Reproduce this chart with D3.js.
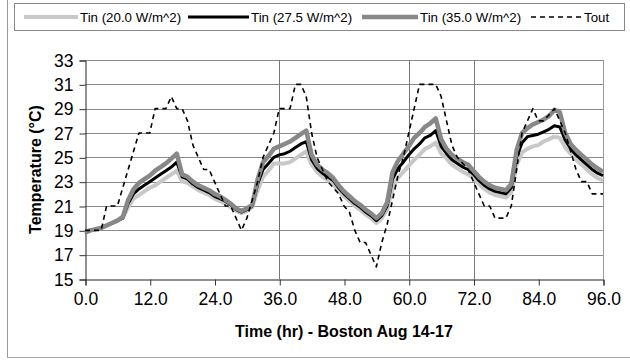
<!DOCTYPE html>
<html><head><meta charset="utf-8">
<script src="https://cdn.jsdelivr.net/npm/d3@7"></script>
<style>body{margin:0;background:#fff}svg{display:block}text{font-family:"Liberation Sans",Arial,sans-serif}</style>
</head><body><svg id="c" width="630" height="362"></svg>
<script>
const hours = [0,1,2,3,4,5,6,7,8,9,10,11,12,13,14,15,16,17,18,19,20,21,22,23,24,25,26,27,28,29,30,31,32,33,34,35,36,37,38,39,40,41,42,43,44,45,46,47,48,49,50,51,52,53,54,55,56,57,58,59,60,61,62,63,64,65,66,67,68,69,70,71,72,73,74,75,76,77,78,79,80,81,82,83,84,85,86,87,88,89,90,91,92,93,94,95,96];
const tin20 = [18.8,19.0,19.1,19.2,19.4,19.6,19.8,20.0,20.9,21.6,21.9,22.2,22.5,22.7,23.0,23.3,23.6,23.9,23.0,22.9,22.6,22.3,22.1,21.9,21.6,21.4,21.2,20.9,20.6,20.4,20.6,20.9,22.3,23.4,23.9,24.5,24.5,24.5,24.6,24.9,25.2,25.5,24.4,23.8,23.4,23.1,22.8,22.2,21.8,21.4,21.0,20.7,20.3,20.0,19.6,20.0,20.7,22.5,23.3,23.8,24.3,24.8,25.2,25.7,25.9,26.2,25.3,24.9,24.4,24.1,23.8,23.6,23.3,22.8,22.4,22.1,21.9,21.8,21.7,22.1,24.4,25.4,25.7,25.9,26.0,26.3,26.5,26.7,26.6,25.8,25.3,24.8,24.4,24.0,23.6,23.3,23.1];
const tin275 = [18.8,19.0,19.1,19.2,19.4,19.6,19.8,20.0,21.2,22.0,22.4,22.7,23.0,23.3,23.6,23.9,24.2,24.6,23.4,23.2,22.8,22.5,22.3,22.1,21.8,21.6,21.4,21.1,20.7,20.5,20.7,21.0,22.8,24.0,24.5,25.0,25.2,25.3,25.5,25.8,26.1,26.3,24.8,24.1,23.7,23.4,23.1,22.5,22.0,21.6,21.2,20.9,20.5,20.2,19.8,20.2,21.0,23.2,24.1,24.6,25.2,25.7,26.1,26.6,26.8,27.2,25.9,25.3,24.8,24.5,24.2,24.0,23.6,23.1,22.7,22.4,22.2,22.1,22.0,22.5,25.0,26.2,26.7,26.8,26.9,27.1,27.3,27.6,27.5,26.4,25.7,25.2,24.8,24.4,24.0,23.7,23.5];
const tin35 = [18.8,19.0,19.1,19.2,19.4,19.6,19.8,20.1,21.5,22.4,22.9,23.2,23.5,23.9,24.2,24.5,24.9,25.3,23.6,23.4,23.0,22.7,22.5,22.3,22.0,21.8,21.5,21.2,20.8,20.6,20.8,21.1,23.2,24.6,25.1,25.7,25.9,26.1,26.3,26.6,26.9,27.2,25.2,24.4,24.0,23.7,23.3,22.7,22.2,21.8,21.4,21.1,20.7,20.4,20.0,20.4,21.3,23.8,24.7,25.3,25.9,26.6,27.0,27.5,27.8,28.2,26.5,25.7,25.2,24.9,24.6,24.4,23.9,23.4,23.0,22.7,22.5,22.4,22.3,22.8,25.6,27.0,27.4,27.7,27.9,28.1,28.4,28.9,28.7,27.0,26.1,25.6,25.2,24.8,24.4,24.1,23.8];
const tout = [19,19,19,19,21,21,21,22.5,24,25.5,27,27,27,29,29,29,30,29,29,28,26,25,24,24,23,22,21,21,20,19,20,21.5,23,25,26,27,29,29,29,31,31,30,27,25,24,23,22.5,22,21,20.5,19,18,18,17,16,18,19.5,21.5,23.5,25,27,29,31,31,31,31,30,28,26,25,24.5,24,23,22,21,21,20,20,20,21,24,27,28,29,28,28,28.5,29,28,27,25.5,24,23,23,22,22,22];
const yTicks = [15,17,19,21,23,25,27,29,31,33];
const xTicks = [0,12,24,36,48,60,72,84,96];
const vGrid = [36,60,72];
const seriesNames = ["Tin (20.0 W/m^2)","Tin (27.5 W/m^2)","Tin (35.0 W/m^2)","Tout"];

const svg = d3.select("#c");
const x = d3.scaleLinear().domain([0,96]).range([85,603]);
const y = d3.scaleLinear().domain([15,33]).range([279,60]);

// outer chart border
svg.append("line").attr("x1",7.5).attr("x2",7.5).attr("y1",0).attr("y2",357.5).attr("stroke","#999");
svg.append("line").attr("x1",7).attr("x2",630).attr("y1",357.5).attr("y2",357.5).attr("stroke","#aaa");

// horizontal grid
svg.append("g").selectAll("line").data(yTicks.filter(d=>d>15)).join("line")
  .attr("x1",x(0)).attr("x2",x(96)).attr("y1",d=>Math.round(y(d))+0.5).attr("y2",d=>Math.round(y(d))+0.5)
  .attr("stroke","#8a8a8a").attr("stroke-width",1);
// vertical grid
svg.append("g").selectAll("line").data(vGrid).join("line")
  .attr("x1",d=>Math.round(x(d))+0.5).attr("x2",d=>Math.round(x(d))+0.5).attr("y1",y(33)).attr("y2",y(15))
  .attr("stroke","#777").attr("stroke-width",1);
// right border
svg.append("line").attr("x1",x(96)+0.5).attr("x2",x(96)+0.5).attr("y1",y(33)).attr("y2",y(15)).attr("stroke","#999");

// axes
const yAxis = d3.axisLeft(y).tickValues(yTicks).tickSize(6).tickPadding(6).tickFormat(d3.format("d"));
const gy = svg.append("g").attr("transform",`translate(${x(0)+0.5},0.5)`).call(yAxis);
const xAxis = d3.axisBottom(x).tickValues(xTicks).tickSize(6).tickPadding(7).tickFormat(d3.format(".1f"));
const gx = svg.append("g").attr("transform",`translate(0.5,${y(15)+0.5})`).call(xAxis);
[gy,gx].forEach(g=>{
  g.select(".domain").attr("stroke","#222");
  g.selectAll(".tick line").attr("stroke","#333");
  g.selectAll("text").attr("font-size","17.5px").attr("fill","#000").style("font-family","'Liberation Sans',Arial,sans-serif");
});

// axis titles
svg.append("text").attr("transform",`translate(41,${(y(15)+y(33))/2}) rotate(-90)`).attr("text-anchor","middle")
  .attr("font-size","16px").attr("font-weight","bold").text("Temperature (°C)");
svg.append("text").attr("x",(x(0)+x(96))/2).attr("y",337).attr("text-anchor","middle")
  .attr("font-size","16px").attr("font-weight","bold").text("Time (hr) - Boston Aug 14-17");

// lines
const styles = [
  {data:tin20, stroke:"#c8c8c8", w:4, dash:null},
  {data:tin275, stroke:"#000", w:3, dash:null},
  {data:tin35, stroke:"#888", w:4.5, dash:null},
  {data:tout, stroke:"#000", w:1.6, dash:"5,4"}
];
const line = d3.line().x((d,i)=>x(hours[i])).y(d=>y(d));
styles.forEach(s=>{
  svg.append("path").datum(s.data).attr("d",line).attr("fill","none").attr("stroke",s.stroke)
    .attr("stroke-width",s.w).attr("stroke-dasharray",s.dash).attr("stroke-linejoin","round");
});

// legend
svg.append("rect").attr("x",14.5).attr("y",3.5).attr("width",610).attr("height",27).attr("fill","#fff").attr("stroke","#888");
const legX = [[24,78],[188,249],[362,418],[531,582]];
styles.forEach((s,i)=>{
  svg.append("line").attr("x1",legX[i][0]).attr("x2",legX[i][1]).attr("y1",17).attr("y2",17)
    .attr("stroke",s.stroke).attr("stroke-width",s.w).attr("stroke-dasharray",s.dash);
  svg.append("text").attr("x",legX[i][1]+2).attr("y",22).attr("font-size","13.3px").text(seriesNames[i]);
});
</script></body></html>
